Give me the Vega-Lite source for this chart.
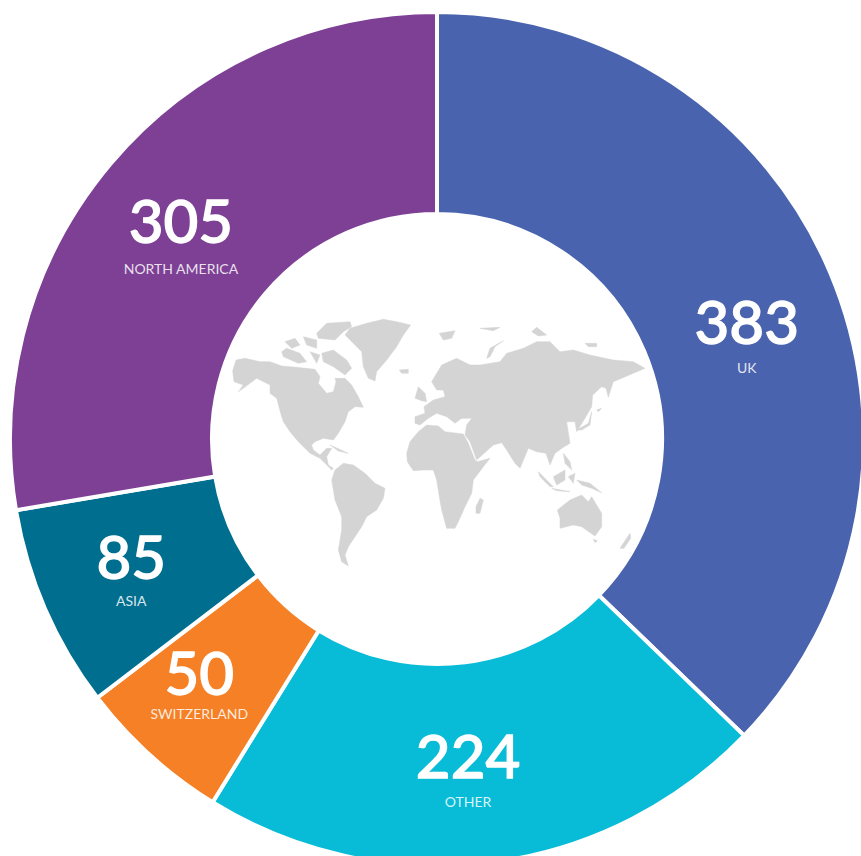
{
"$schema":"https://vega.github.io/schema/vega-lite/v6.json",
"width":848,"height":836,
"autosize":{"type":"none"},
"padding":{"left":13,"top":21,"right":0,"bottom":0},
"background":"white",
"view":{"stroke":null},
"datasets":{"regions":[
{"region":"UK","value":383,"label":"UK","arcShare":134,"ord":1},
{"region":"Other","value":224,"label":"OTHER","arcShare":77.7,"ord":2},
{"region":"Switzerland","value":50,"label":"SWITZERLAND","arcShare":21,"ord":3},
{"region":"Asia","value":85,"label":"ASIA","arcShare":27.7,"ord":4},
{"region":"North America","value":305,"label":"NORTH AMERICA","arcShare":99.6,"ord":5}
]},
"layer":[
{"data":{"values":{"type":"FeatureCollection","features":[
{"type":"Feature","properties":{"n":"North America"},"geometry":{"type":"Polygon","coordinates":[[[38,182],[48,150],[75,145],[120,155],[150,155],[185,168],[230,172],[285,178],[300,200],[295,220],[320,250],[340,245],[348,215],[345,205],[375,205],[395,225],[415,260],[430,292],[405,290],[385,305],[375,335],[355,370],[340,390],[310,385],[285,395],[275,405],[280,420],[300,435],[320,415],[335,415],[320,440],[325,465],[340,475],[335,480],[300,445],[270,430],[235,395],[210,365],[190,335],[182,310],[170,265],[150,250],[150,225],[110,205],[70,235],[55,245],[70,225],[42,215],[38,182]]]}},
{"type":"Feature","properties":{"n":"Arctic1"},"geometry":{"type":"Polygon","coordinates":[[[185,125],[200,115],[240,130],[260,155],[235,160],[190,140],[185,125]]]}},
{"type":"Feature","properties":{"n":"Arctic2"},"geometry":{"type":"Polygon","coordinates":[[[305,130],[340,120],[380,150],[395,175],[375,195],[340,170],[310,155],[305,130]]]}},
{"type":"Feature","properties":{"n":"Arctic3"},"geometry":{"type":"Polygon","coordinates":[[[290,70],[320,40],[390,35],[395,50],[370,65],[345,90],[295,85],[290,70]]]}},
{"type":"Feature","properties":{"n":"Arctic4"},"geometry":{"type":"Polygon","coordinates":[[[195,95],[225,85],[240,105],[215,115],[195,95]]]}},
{"type":"Feature","properties":{"n":"Arctic5"},"geometry":{"type":"Polygon","coordinates":[[[250,80],[290,90],[290,115],[260,105],[250,80]]]}},
{"type":"Feature","properties":{"n":"Arctic6"},"geometry":{"type":"Polygon","coordinates":[[[270,125],[300,135],[290,160],[270,125]]]}},
{"type":"Feature","properties":{"n":"Greenland"},"geometry":{"type":"Polygon","coordinates":[[[375,75],[390,55],[440,40],[490,28],[530,35],[572,45],[550,75],[530,110],[500,150],[470,185],[465,213],[445,205],[430,170],[425,125],[400,100],[375,75]]]}},
{"type":"Feature","properties":{"n":"Iceland"},"geometry":{"type":"Polygon","coordinates":[[[538,180],[565,178],[565,190],[545,190],[538,180]]]}},
{"type":"Feature","properties":{"n":"Cuba"},"geometry":{"type":"Polygon","coordinates":[[[330,405],[385,430],[355,423],[330,405]]]}},
{"type":"Feature","properties":{"n":"South America"},"geometry":{"type":"Polygon","coordinates":[[[335,510],[345,480],[370,460],[400,465],[435,490],[465,520],[495,535],[490,565],[470,600],[440,620],[425,650],[405,680],[385,710],[375,735],[385,768],[365,755],[355,720],[365,660],[365,620],[345,570],[335,510]]]}},
{"type":"Feature","properties":{"n":"Africa"},"geometry":{"type":"Polygon","coordinates":[[[560,430],[570,395],[595,365],[620,345],[655,348],[675,365],[730,372],[745,400],[765,450],[772,455],[810,445],[790,470],[760,510],[755,550],[735,590],[715,635],[705,655],[680,655],[665,600],[658,560],[650,510],[640,480],[610,480],[580,482],[562,455],[560,430]]]}},
{"type":"Feature","properties":{"n":"Madagascar"},"geometry":{"type":"Polygon","coordinates":[[[780,565],[790,570],[780,610],[768,610],[768,590],[780,565]]]}},
{"type":"Feature","properties":{"n":"Eurasia"},"geometry":{"type":"Polygon","coordinates":[[[585,320],[615,310],[612,290],[640,270],[675,260],[670,240],[650,240],[635,215],[665,165],[710,145],[750,165],[780,165],[840,155],[860,130],[910,115],[950,95],[990,95],[1020,125],[1060,120],[1110,135],[1180,150],[1240,155],[1275,175],[1240,190],[1205,205],[1180,215],[1165,262],[1158,235],[1145,230],[1118,255],[1115,290],[1095,325],[1070,365],[1065,335],[1040,335],[1050,400],[1030,412],[1005,430],[990,465],[978,430],[950,425],[925,415],[900,475],[885,460],[860,420],[845,398],[820,405],[770,450],[750,395],[735,375],[740,345],[755,325],[725,325],[705,340],[680,320],[650,310],[625,325],[600,345],[585,340],[585,320]],[[715,305],[760,310],[755,322],[718,325],[715,305]]]}},
{"type":"Feature","properties":{"n":"UK"},"geometry":{"type":"Polygon","coordinates":[[[585,265],[595,230],[615,250],[620,275],[605,272],[585,265]]]}},
{"type":"Feature","properties":{"n":"Novaya Zemlya"},"geometry":{"type":"Polygon","coordinates":[[[800,145],[810,115],[850,92],[825,110],[810,140],[800,145]]]}},
{"type":"Feature","properties":{"n":"Svalbard"},"geometry":{"type":"Polygon","coordinates":[[[658,70],[705,62],[695,85],[670,90],[658,70]]]}},
{"type":"Feature","properties":{"n":"Franz Josef"},"geometry":{"type":"Polygon","coordinates":[[[780,55],[840,52],[820,62],[780,55]]]}},
{"type":"Feature","properties":{"n":"Severnaya"},"geometry":{"type":"Polygon","coordinates":[[[935,65],[950,52],[980,75],[955,78],[935,65]]]}},
{"type":"Feature","properties":{"n":"New Siberian"},"geometry":{"type":"Polygon","coordinates":[[[1095,100],[1130,100],[1130,110],[1105,110],[1095,100]]]}},
{"type":"Feature","properties":{"n":"Japan"},"geometry":{"type":"Polygon","coordinates":[[[1070,360],[1105,340],[1115,305],[1110,345],[1085,360],[1070,360]]]}},
{"type":"Feature","properties":{"n":"Hokkaido"},"geometry":{"type":"Polygon","coordinates":[[[1130,300],[1145,295],[1135,305],[1130,300]]]}},
{"type":"Feature","properties":{"n":"Sumatra"},"geometry":{"type":"Polygon","coordinates":[[[955,485],[1000,530],[990,530],[960,500],[955,485]]]}},
{"type":"Feature","properties":{"n":"Borneo"},"geometry":{"type":"Polygon","coordinates":[[[1000,500],[1035,480],[1035,510],[1010,525],[1000,500]]]}},
{"type":"Feature","properties":{"n":"Java"},"geometry":{"type":"Polygon","coordinates":[[[995,535],[1050,545],[1010,542],[995,535]]]}},
{"type":"Feature","properties":{"n":"Philippines"},"geometry":{"type":"Polygon","coordinates":[[[1030,430],[1050,455],[1055,480],[1035,460],[1030,430]]]}},
{"type":"Feature","properties":{"n":"Sulawesi"},"geometry":{"type":"Polygon","coordinates":[[[1045,500],[1065,490],[1060,520],[1045,500]]]}},
{"type":"Feature","properties":{"n":"New Guinea"},"geometry":{"type":"Polygon","coordinates":[[[1070,510],[1110,520],[1145,548],[1115,535],[1085,525],[1070,510]]]}},
{"type":"Feature","properties":{"n":"Australia"},"geometry":{"type":"Polygon","coordinates":[[[1012,600],[1050,570],[1085,555],[1105,575],[1115,560],[1145,610],[1145,650],[1125,678],[1085,650],[1060,645],[1020,655],[1020,625],[1012,600]]]}},
{"type":"Feature","properties":{"n":"Tasmania"},"geometry":{"type":"Polygon","coordinates":[[[1120,688],[1132,692],[1125,698],[1120,688]]]}},
{"type":"Feature","properties":{"n":"New Zealand"},"geometry":{"type":"Polygon","coordinates":[[[1200,715],[1230,670],[1232,685],[1212,715],[1200,715]]]}}
]},"format":{"type":"json","property":"features"}},
"projection":{"type":"identity","scale":0.33333,"translate":[207,289]},
"mark":{"type":"geoshape","fill":"#d4d4d4","stroke":"#d4d4d4","strokeWidth":0.5}},
{"data":{"name":"regions"},
"mark":{"type":"arc","innerRadius":225,"outerRadius":427,"stroke":"white","strokeWidth":4},
"encoding":{
"theta":{"field":"arcShare","type":"quantitative","stack":true},
"order":{"field":"ord","type":"quantitative"},
"color":{"field":"region","type":"nominal","legend":null,"scale":{"domain":["UK","Other","Switzerland","Asia","North America"],"range":["#4A63AE","#08BBD6","#F58025","#006F8F","#7D4095"]}}}},
{"data":{"name":"regions"},
"mark":{"type":"text","radius":330,"font":"Lato","fontSize":60,"fontWeight":500,"fill":"white","stroke":"white","strokeWidth":1.3,"align":"center","baseline":"middle",
"dx":{"expr":"{UK:6,Other:-10,Switzerland:-16,Asia:-3,'North America':-4}[datum.region]"},
"dy":{"expr":"{UK:16,Other:-6,Switzerland:-6,Asia:-9,'North America':-1}[datum.region]"}},
"encoding":{
"theta":{"field":"arcShare","type":"quantitative","stack":true},
"order":{"field":"ord","type":"quantitative"},
"text":{"field":"value","type":"quantitative"}}},
{"data":{"name":"regions"},
"mark":{"type":"text","radius":330,"font":"Lato","fontSize":14,"fill":"white","fillOpacity":0.85,"align":"center","baseline":"middle",
"dx":{"expr":"{UK:6,Other:-10,Switzerland:-16,Asia:-3,'North America':-4}[datum.region]"},
"dy":{"expr":"{UK:59,Other:37,Switzerland:32,Asia:32,'North America':44}[datum.region]"}},
"encoding":{
"theta":{"field":"arcShare","type":"quantitative","stack":true},
"order":{"field":"ord","type":"quantitative"},
"text":{"field":"label","type":"nominal"}}}
],
"resolve":{"scale":{"theta":"shared"}},
"config":{"style":{"cell":{"stroke":null}}}
}
